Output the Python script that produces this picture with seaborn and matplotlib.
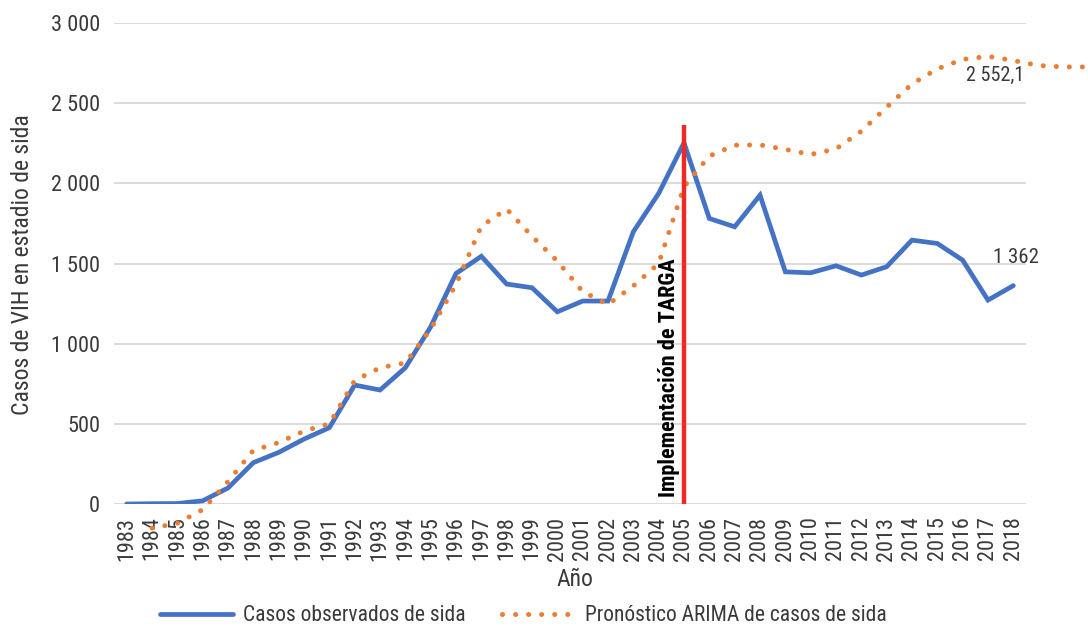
import matplotlib
matplotlib.use("Agg")
import matplotlib.pyplot as plt
import matplotlib.ticker as mticker
from matplotlib.lines import Line2D
import seaborn as sns
import pandas as pd

# ---------------- data ----------------
years = list(range(1983, 2019))
observed = [0, 2, 3, 20, 100, 258, 322, 405, 476, 742, 711, 850, 1105, 1438,
            1545, 1372, 1349, 1199, 1266, 1266, 1698, 1937, 2253, 1781, 1729,
            1926, 1448, 1442, 1486, 1428, 1480, 1646, 1625, 1521, 1272, 1362]

arima_years = list(range(1984, 2022))
arima = [-150, -120, -35, 140, 335, 383, 455, 500, 770, 850, 880, 1090, 1370,
         1733, 1840, 1670, 1515, 1325, 1245, 1360, 1500, 1980, 2170, 2238,
         2240, 2212, 2180, 2215, 2325, 2475, 2620, 2714, 2773, 2792, 2766,
         2735, 2726, 2726]

y_ticks = [0, 500, 1000, 1500, 2000, 2500, 3000]
targa_year = 2005
targa_top = 2365
label_obs = "1 362"
label_arima = "2 552,1"

# ---------------- style ----------------
sns.set_theme(style="white")
FAM = ["Roboto Condensed", "Liberation Sans Narrow", "Roboto", "DejaVu Sans"]
plt.rcParams["font.family"] = FAM
TXT = "#3a3a3a"
BLUE = "#4472C4"
ORANGE = "#ED7D31"
RED = "#EE2A24"

fig = plt.figure(figsize=(10.88, 6.29), dpi=100)
ax = fig.add_axes([0.1048, 0.1987, 0.8382, 0.7647])

df_obs = pd.DataFrame({"Año": years, "Casos": observed})
df_ar = pd.DataFrame({"Año": arima_years, "Casos": arima})

sns.lineplot(data=df_obs, x="Año", y="Casos", color=BLUE, lw=3.4, ax=ax,
             zorder=3)
sns.lineplot(data=df_ar, x="Año", y="Casos", color=ORANGE, lw=3.6, ax=ax,
             zorder=4)
l_obs, l_ar = ax.lines[0], ax.lines[1]
l_ar.set_linestyle((0, (0.01, 2.6)))
l_ar.set_dash_capstyle("round")
l_ar.set_clip_on(False)
l_obs.set_solid_joinstyle("miter")

# vertical TARGA line
ax.vlines(targa_year, 0, targa_top, color=RED, lw=3.2, zorder=5)
ax.annotate("Implementación de TARGA", xy=(targa_year, 0),
            xytext=(-3, 5), textcoords="offset points",
            rotation=90, ha="right", va="bottom", fontsize=16,
            fontweight="bold", color="black", family=FAM)

# end labels
ax.annotate(label_obs, xy=(years[-1], observed[-1]), xytext=(2, 20),
            textcoords="offset points", ha="center", va="center",
            fontsize=15, color=TXT, family=FAM)
ax.annotate(label_arima, xy=(2018, arima[arima_years.index(2018)]),
            xytext=(-13, -11), textcoords="offset points", ha="center",
            va="center", fontsize=14.5, color=TXT, family=FAM)

# axes
ax.set_xlim(1982.5, 2018.5)
ax.set_ylim(0, 3000)
ax.set_xticks(years)
ax.set_xticklabels([str(y) for y in years], rotation=90, fontsize=16,
                   color=TXT)
ax.set_yticks(y_ticks)
ax.yaxis.set_major_formatter(
    mticker.FuncFormatter(lambda v, p: f"{int(v):,}".replace(",", " ")))
ax.tick_params(axis="y", length=0, pad=10, labelsize=16, labelcolor=TXT)
ax.tick_params(axis="x", length=0, pad=9)
ax.yaxis.grid(True, color="#D9D9D9", lw=1.3)
ax.xaxis.grid(False)
for s in ax.spines.values():
    s.set_visible(False)

ax.set_xlabel("Año", fontsize=17, color=TXT)
ax.xaxis.set_label_coords(0.505, -0.133)
ax.set_ylabel("Casos de VIH en estadio de sida", fontsize=17, color=TXT)
ax.yaxis.set_label_coords(-0.088, 0.497)

handles = [Line2D([], [], color=BLUE, lw=3.4),
           Line2D([], [], color=ORANGE, lw=3.6, linestyle=(0, (0.01, 2.6)),
                  dash_capstyle="round")]
leg = fig.legend(handles, ["Casos observados de sida",
                           "Pronóstico ARIMA de casos de sida"],
                 loc="center", bbox_to_anchor=(0.481, 0.021), ncol=2,
                 frameon=False, fontsize=15.5, handlelength=3.4,
                 columnspacing=1.7, handletextpad=0.45)
for t in leg.get_texts():
    t.set_color(TXT)

fig.savefig("out.png", dpi=100)
